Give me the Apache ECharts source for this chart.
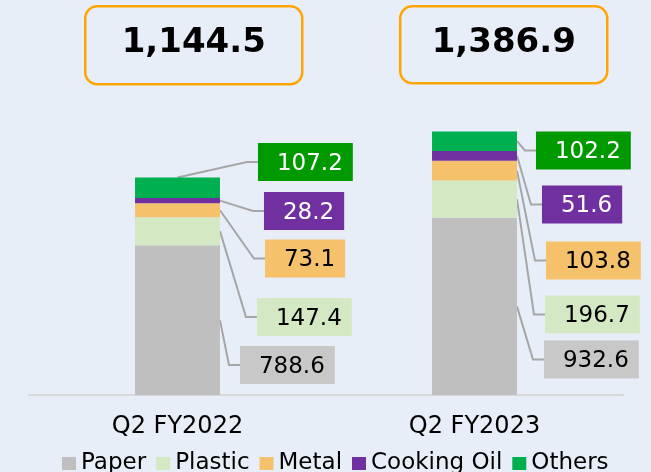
<!DOCTYPE html>
<html>
<head>
<meta charset="utf-8">
<script src="https://cdn.jsdelivr.net/npm/echarts@6/dist/echarts.min.js"></script>
<style>
  html, body { margin: 0; padding: 0; background: #E8EEF8; }
  #chart { width: 651px; height: 472px; }
</style>
</head>
<body>
<div id="chart"></div>
<script>
// data
const categories = ["Q2 FY2022", "Q2 FY2023"];
const materials = ["Paper", "Plastic", "Metal", "Cooking Oil", "Others"];
const paper = [788.6, 932.6];
const plastic = [147.4, 196.7];
const metal = [73.1, 103.8];
const cookingOil = [28.2, 51.6];
const others = [107.2, 102.2];

const stacks = [paper, plastic, metal, cookingOil, others];
const barColors = ["#BFBFBF", "#D4E8C4", "#F6C16B", "#7030A0", "#00B050"];
const boxColors = ["#C8C8C8", "#D4E8C4", "#F6C16B", "#7030A0", "#009A00"];
const boxText = ["#000", "#000", "#000", "#fff", "#fff"];
const BAR_RATIO = 0.286;
const FONT = '"DejaVu Sans", Verdana, sans-serif';
const LABEL_FONT = "23px " + FONT;

// callout spots: [gap from bar right edge, box centre y] per category, Paper..Others
const calloutSpots = [
  [[20, 365], [37, 317], [45, 258.5], [44, 211], [38, 162]],
  [[27, 359.5], [28, 314.5], [29, 260.5], [25, 204.5], [19, 150.5]]
];

const calloutData = [];
categories.forEach(function (c, ci) {
  let acc = 0;
  stacks.forEach(function (vals, mi) {
    calloutData.push([ci, acc, acc + vals[ci], mi, vals[ci]]);
    acc += vals[ci];
  });
});

const totals = categories.map(function (c, ci) {
  return stacks.reduce(function (s, vals) { return s + vals[ci]; }, 0);
});
function fmt(v) {
  return v.toLocaleString("en-US", { minimumFractionDigits: 1, maximumFractionDigits: 1 });
}

const measureCtx = document.createElement("canvas").getContext("2d");
function textWidth(txt) {
  measureCtx.font = LABEL_FONT;
  return measureCtx.measureText(txt).width;
}

const chart = echarts.init(document.getElementById("chart"));

const barSeries = materials.map(function (name, mi) {
  return {
    name: name,
    type: "bar",
    stack: "total",
    barWidth: (BAR_RATIO * 100) + "%",
    itemStyle: { color: barColors[mi] },
    emphasis: { disabled: true },
    data: stacks[mi]
  };
});

const totalBoxes = [
  { x: 84, y: 5, w: 217, h: 78 },
  { x: 399, y: 5, w: 207, h: 77 }
];

chart.setOption({
  backgroundColor: "#E8EEF8",
  animation: false,
  textStyle: { fontFamily: FONT },
  grid: { left: 29, right: 28, top: 110, bottom: 77 },
  legend: {
    left: 57,
    top: 447,
    icon: "rect",
    itemWidth: 14,
    itemHeight: 13,
    itemGap: 10,
    textStyle: { fontSize: 23, color: "#000", fontFamily: FONT },
    data: materials
  },
  xAxis: {
    type: "category",
    data: categories,
    axisLine: { lineStyle: { color: "#D9D9D9", width: 2 } },
    axisTick: { show: false },
    axisLabel: {
      interval: 0,
      margin: 20,
      fontSize: 24,
      color: "#000",
      fontFamily: FONT
    }
  },
  yAxis: { type: "value", min: 0, max: 1500, show: false, splitLine: { show: false } },
  series: barSeries.concat([{
    type: "custom",
    silent: true,
    encode: { x: 0, y: [1, 2] },
    data: calloutData,
    renderItem: function (params, api) {
      const ci = api.value(0), lo = api.value(1), hi = api.value(2);
      const mi = api.value(3), val = api.value(4);
      const top = api.coord([ci, hi]);
      const bottom = api.coord([ci, lo]);
      const half = api.size([1, 0])[0] * BAR_RATIO / 2;
      const right = top[0] + half;
      const spot = calloutSpots[ci][mi];
      const bx = right + spot[0], by = spot[1];
      const start = (ci === 0 && mi === 4) ? [top[0], top[1]] : [right, (top[1] + bottom[1]) / 2];
      const txt = val.toFixed(1);
      const w = textWidth(txt) + 29;
      return {
        type: "group",
        children: [
          {
            type: "polyline",
            shape: { points: [start, [bx - 11, by], [bx, by]] },
            style: { stroke: "#A6A6A6", lineWidth: 2, fill: null }
          },
          {
            type: "rect",
            shape: { x: bx, y: by - 19, width: w, height: 38 },
            style: { fill: boxColors[mi] }
          },
          {
            type: "text",
            style: {
              x: bx + 19, y: by + 2,
              text: txt,
              align: "left",
              verticalAlign: "middle",
              font: LABEL_FONT,
              fill: boxText[mi]
            }
          }
        ]
      };
    }
  }]),
  graphic: totalBoxes.map(function (b, i) {
    return {
      type: "group",
      left: b.x,
      top: b.y,
      children: [
        {
          type: "rect",
          shape: { x: 0, y: 0, width: b.w, height: b.h, r: 12 },
          style: { fill: "rgba(0,0,0,0)", stroke: "#FFA500", lineWidth: 2.5 }
        },
        {
          type: "text",
          x: b.w / 2,
          y: b.h / 2 - 2,
          style: {
            text: fmt(totals[i]),
            align: "center",
            verticalAlign: "middle",
            font: "bold 34px " + FONT,
            fill: "#000"
          }
        }
      ]
    };
  })
});
</script>
</body>
</html>
